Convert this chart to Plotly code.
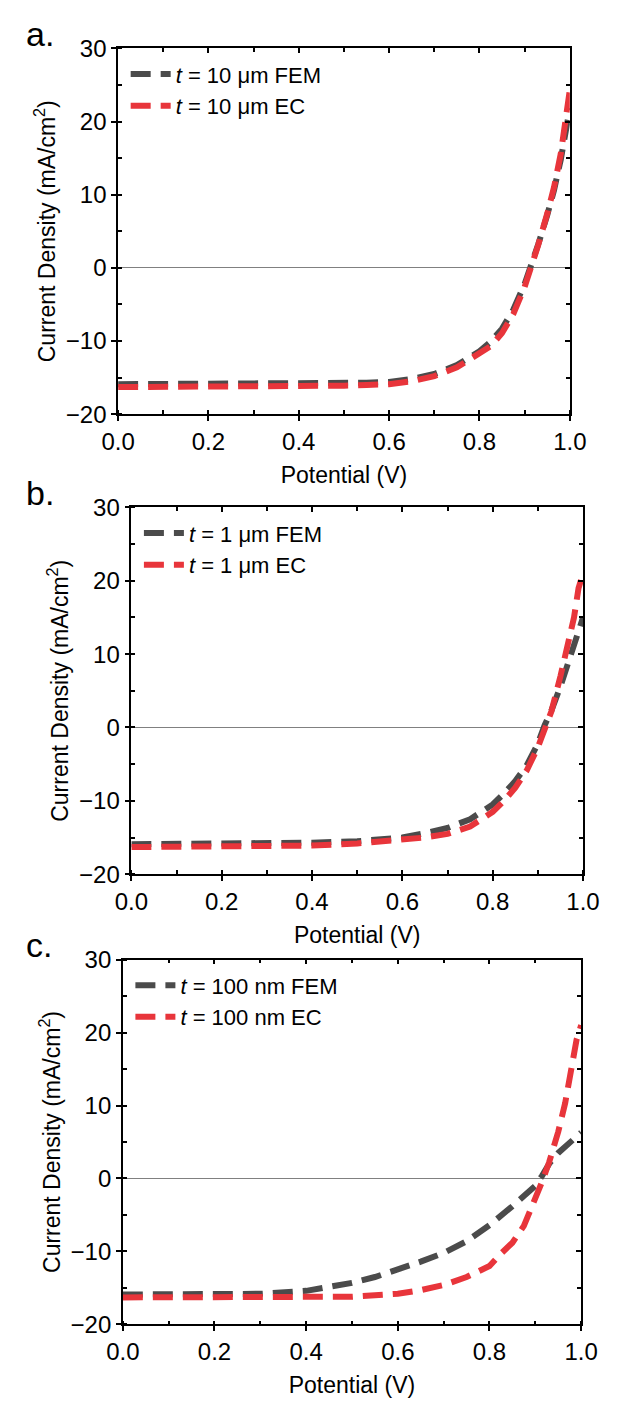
import plotly.graph_objects as go

# ---------------- data ----------------
V = [0.0, 0.1, 0.2, 0.3, 0.4, 0.5, 0.55, 0.6, 0.65, 0.7, 0.75, 0.8, 0.825,
     0.85, 0.875, 0.9, 0.915, 0.93, 0.95, 0.965, 0.98, 0.99, 1.0]

fem_a = [-15.9, -15.9, -15.9, -15.9, -15.9, -15.8, -15.7, -15.6, -15.2, -14.5, -13.3, -11.4, -10.1,
         -8.3, -5.7, -2.2, 0.4, 3.2, 7.2, 10.6, 14.8, 18.2, 21.8]
ec_a = [-16.3, -16.3, -16.3, -16.2, -16.2, -16.1, -16.0, -15.9, -15.5, -14.8, -13.6, -11.8, -10.7,
        -8.9, -6.3, -2.6, 0.1, 3.1, 7.4, 11.0, 15.6, 19.6, 24.3]

fem_b = [-15.9, -15.9, -15.9, -15.8, -15.7, -15.5, -15.3, -15.0, -14.4, -13.7, -12.5, -10.5, -9.0,
         -7.3, -5.2, -2.2, 0.3, 2.3, 5.6, 8.4, 11.5, 13.5, 15.0]
ec_b = [-16.3, -16.3, -16.3, -16.2, -16.1, -15.8, -15.6, -15.4, -15.0, -14.5, -13.5, -11.5, -10.0,
        -8.2, -5.9, -2.7, -0.5, 2.2, 7.0, 10.8, 15.0, 19.0, 21.0]

fem_c = [-15.9, -15.9, -15.8, -15.8, -15.4, -14.3, -13.5, -12.5, -11.4, -10.2, -8.6, -6.4, -5.2,
         -3.8, -2.4, -1.0, 0.4, 2.0, 3.5, 4.4, 5.1, 5.7, 6.3]
ec_c = [-16.3, -16.3, -16.3, -16.3, -16.3, -16.2, -16.0, -15.8, -15.3, -14.6, -13.5, -12.0, -10.3,
        -8.8, -6.5, -3.0, -0.4, 2.2, 6.4, 10.3, 15.0, 19.0, 21.0]

labels_a = ["<i>t</i> = 10 \u03bcm FEM", "<i>t</i> = 10 \u03bcm EC"]
labels_b = ["<i>t</i> = 1 \u03bcm FEM", "<i>t</i> = 1 \u03bcm EC"]
labels_c = ["<i>t</i> = 100 nm FEM", "<i>t</i> = 100 nm EC"]
panel_letters = ["a.", "b.", "c."]

x_ticks = [0.0, 0.2, 0.4, 0.6, 0.8, 1.0]
y_ticks = [-20, -10, 0, 10, 20, 30]

# ---------------- style ----------------
W, H = 618, 1411
GRAY = "#4b4b4b"
RED = "#e8353b"
FONT = "Liberation Sans, Arial, sans-serif"
DASH = "20px,10px"
LW = 6

# panel boxes in pixels: left, right, top, bottom
boxes = [(107, 585, 35, 408), (121, 599, 503, 877), (112, 597, 964, 1336)]

fig = go.Figure()
panels = [(fem_a, ec_a, labels_a), (fem_b, ec_b, labels_b), (fem_c, ec_c, labels_c)]

layout = dict(
    width=W, height=H, margin=dict(l=0, r=0, t=0, b=0),
    paper_bgcolor="white", plot_bgcolor="white",
    font=dict(family=FONT, color="black"),
    annotations=[],
)

for i, ((fem, ec, labs), (L, R, T, B)) in enumerate(zip(panels, boxes)):
    n = i + 1
    xs = "" if n == 1 else str(n)
    xid, yid = "x" + xs, "y" + xs
    mx, my = str(n + 3), str(n + 3)
    leg = "legend" if n == 1 else "legend" + str(n)

    fig.add_trace(go.Scatter(x=V, y=fem, mode="lines", name=labs[0],
                             line=dict(color=GRAY, width=LW, dash=DASH),
                             xaxis=xid, yaxis=yid, legend=leg))
    fig.add_trace(go.Scatter(x=V, y=ec, mode="lines", name=labs[1],
                             line=dict(color=RED, width=LW, dash=DASH),
                             xaxis=xid, yaxis=yid, legend=leg))
    # dummy traces to draw mirrored (inner-tick) top/right axes
    fig.add_trace(go.Scatter(x=[None], y=[None], xaxis="x" + mx, yaxis=yid,
                             showlegend=False, hoverinfo="skip"))
    fig.add_trace(go.Scatter(x=[None], y=[None], xaxis=xid, yaxis="y" + my,
                             showlegend=False, hoverinfo="skip"))

    xdom = [L / W, R / W]
    ydom = [1 - B / H, 1 - T / H]

    layout["xaxis" + xs] = dict(
        domain=xdom, anchor=yid, range=[0, 1], tickvals=x_ticks, tickformat=".1f",
        ticks="outside", ticklen=5, tickwidth=1.5, tickcolor="black",
        minor=dict(dtick=0.1, ticks="inside", ticklen=4, tickwidth=1.5, tickcolor="black"),
        showline=True, linecolor="black", linewidth=1.5, showgrid=False, zeroline=False,
        tickfont=dict(size=24),
        title=dict(text="Potential (V)", font=dict(size=23), standoff=13),
    )
    layout["yaxis" + xs] = dict(
        domain=ydom, anchor=xid, range=[-20, 30], tickvals=y_ticks,
        ticks="outside", ticklen=5, tickwidth=1.5, tickcolor="black",
        minor=dict(dtick=5, ticks="inside", ticklen=4, tickwidth=1.5, tickcolor="black"),
        showline=True, linecolor="black", linewidth=1.5, showgrid=False,
        zeroline=True, zerolinecolor="#808080", zerolinewidth=1,
        tickfont=dict(size=24),
        title=dict(text="Current Density (mA/cm<sup>2</sup>)", font=dict(size=23), standoff=4),
    )
    layout["xaxis" + mx] = dict(
        overlaying=xid, side="top", anchor=yid, range=[0, 1], tickvals=x_ticks,
        ticks="inside", ticklen=5, tickwidth=1.5, tickcolor="black",
        minor=dict(dtick=0.1, ticks="inside", ticklen=4, tickwidth=1.5, tickcolor="black"),
        showline=True, linecolor="black", linewidth=1.5, showgrid=False, zeroline=False,
        showticklabels=False,
    )
    layout["yaxis" + my] = dict(
        overlaying=yid, side="right", anchor=xid, range=[-20, 30], tickvals=y_ticks,
        ticks="inside", ticklen=5, tickwidth=1.5, tickcolor="black",
        minor=dict(dtick=5, ticks="inside", ticklen=4, tickwidth=1.5, tickcolor="black"),
        showline=True, linecolor="black", linewidth=1.5, showgrid=False, zeroline=False,
        showticklabels=False,
    )
    layout[leg] = dict(
        x=(L + 8) / W, y=1 - (T + 5) / H, xanchor="left", yanchor="top",
        bgcolor="rgba(0,0,0,0)", font=dict(size=22), tracegroupgap=0,
        itemwidth=40,
    )
    layout["annotations"].append(dict(
        text=panel_letters[i], x=7 / W, y=1 - (T - 15) / H, xref="paper", yref="paper",
        xanchor="left", yanchor="middle", showarrow=False, font=dict(size=34),
    ))

fig.update_layout(**layout)
fig.write_html("out.html")
